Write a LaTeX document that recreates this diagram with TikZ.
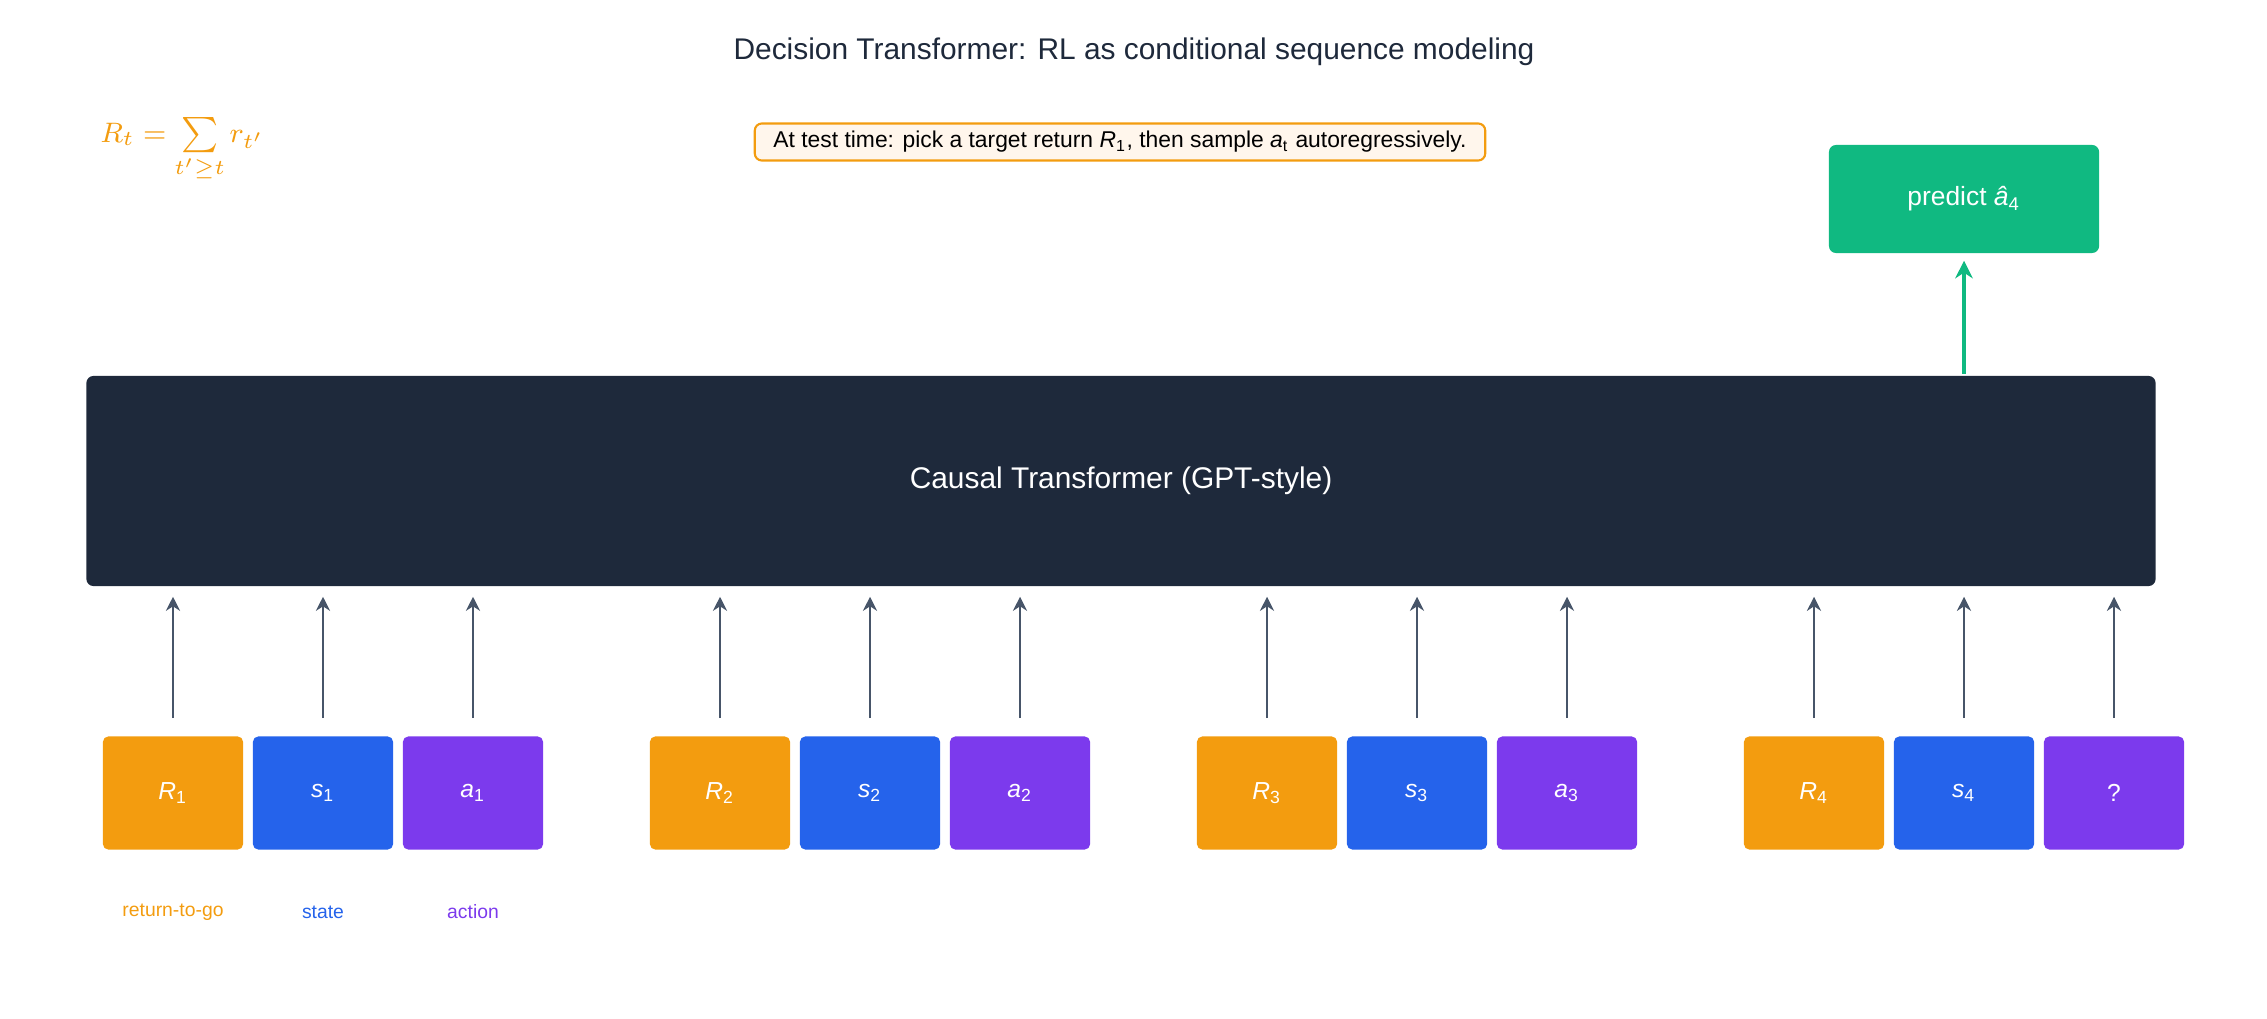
\documentclass[tikz,border=0pt]{standalone}
\usepackage{fontspec}
\setmainfont{Liberation Sans}
\usepackage{xcolor}
\usetikzlibrary{positioning,calc,arrows.meta}
\definecolor{rtgorange}{HTML}{F39C0F}
\definecolor{stateblue}{HTML}{2563EB}
\definecolor{actpurple}{HTML}{7C3AED}
\definecolor{gptdark}{HTML}{1E293B}
\definecolor{predgreen}{HTML}{10B981}
\definecolor{arrgray}{HTML}{475569}
\definecolor{notefill}{HTML}{FFF6EC}
\newcommand{\vv}[2]{\textit{#1}\textsubscript{#2}}

\begin{document}
\begin{tikzpicture}[x=0.01cm,y=-0.01cm,
  token/.style={rounded corners=1.5pt,minimum width=1.4cm,minimum height=1.13cm,inner sep=0pt,text=white,font=\fontsize{7}{8}\selectfont},
  feed/.style={draw=arrgray,line width=0.7pt,-{Stealth[length=4pt,width=4pt]}},
  tag/.style={font=\fontsize{5.5}{6}\selectfont}]
  \useasboundingbox (0,0) rectangle (2267,1019);

  \node (title) at (1134,52) {\fontsize{8.5}{10}\selectfont\color{gptdark}Decision Transformer: RL as conditional sequence modeling};
  \node[text=rtgorange,anchor=west] (rtg) at (88,150) {\fontsize{8}{9}\selectfont$R_t=\sum\limits_{t'\geq t} r_{t'}$};
  \node[draw=rtgorange,fill=notefill,rounded corners=2pt,line width=0.6pt,minimum width=7.3cm,minimum height=0.37cm,inner sep=1pt] (note) at (1120,142)
    {\fontsize{6.5}{7}\selectfont At test time: pick a target return \vv{R}{1}, then sample \vv{a}{t} autoregressively.};

  % transformer block
  \node[fill=gptdark,rounded corners=2pt,minimum width=20.68cm,minimum height=2.1cm,text=white] (gpt) at (1121,481)
    {\fontsize{8.5}{10}\selectfont Causal Transformer (GPT-style)};
  \node[fill=predgreen,rounded corners=2pt,minimum width=2.7cm,minimum height=1.08cm,text=white] (pred) at (1964,199)
    {\fontsize{7.5}{9}\selectfont predict \textit{\^a}\textsubscript{4}};
  \coordinate (gtop) at (1964,374);
  \draw[draw=predgreen,line width=1.4pt,-{Stealth[length=5pt,width=5pt]}] (gtop) -- ([yshift=-2pt]pred.south);

  % tokens
  \foreach \g in {1,...,4}{
    \pgfmathsetmacro{\gx}{173+(\g-1)*547}
    \node[token,fill=rtgorange] (tok-\g-1) at (\gx,793) {\vv{R}{\g}};
    \node[token,fill=stateblue] (tok-\g-2) at (\gx+150,793) {\vv{s}{\g}};
    \ifnum\g<4
      \node[token,fill=actpurple] (tok-\g-3) at (\gx+300,793) {\vv{a}{\g}};
    \else
      \node[token,fill=actpurple] (tok-\g-3) at (\gx+300,793) {?};
    \fi
    \foreach \i in {1,2,3}{
      \coordinate (in-\g-\i) at ($(tok-\g-\i.north)+(0,-592)$);
      \draw[feed] ([yshift=5pt]tok-\g-\i.north) -- ($(tok-\g-\i.north)+(0,-139)$);
    }
  }

  \node[tag,text=rtgorange] (lbl-rtg) at (173,912) {return-to-go};
  \node[tag,text=stateblue] (lbl-state) at (323,912) {state};
  \node[tag,text=actpurple] (lbl-act) at (473,912) {action};
\end{tikzpicture}
\end{document}
